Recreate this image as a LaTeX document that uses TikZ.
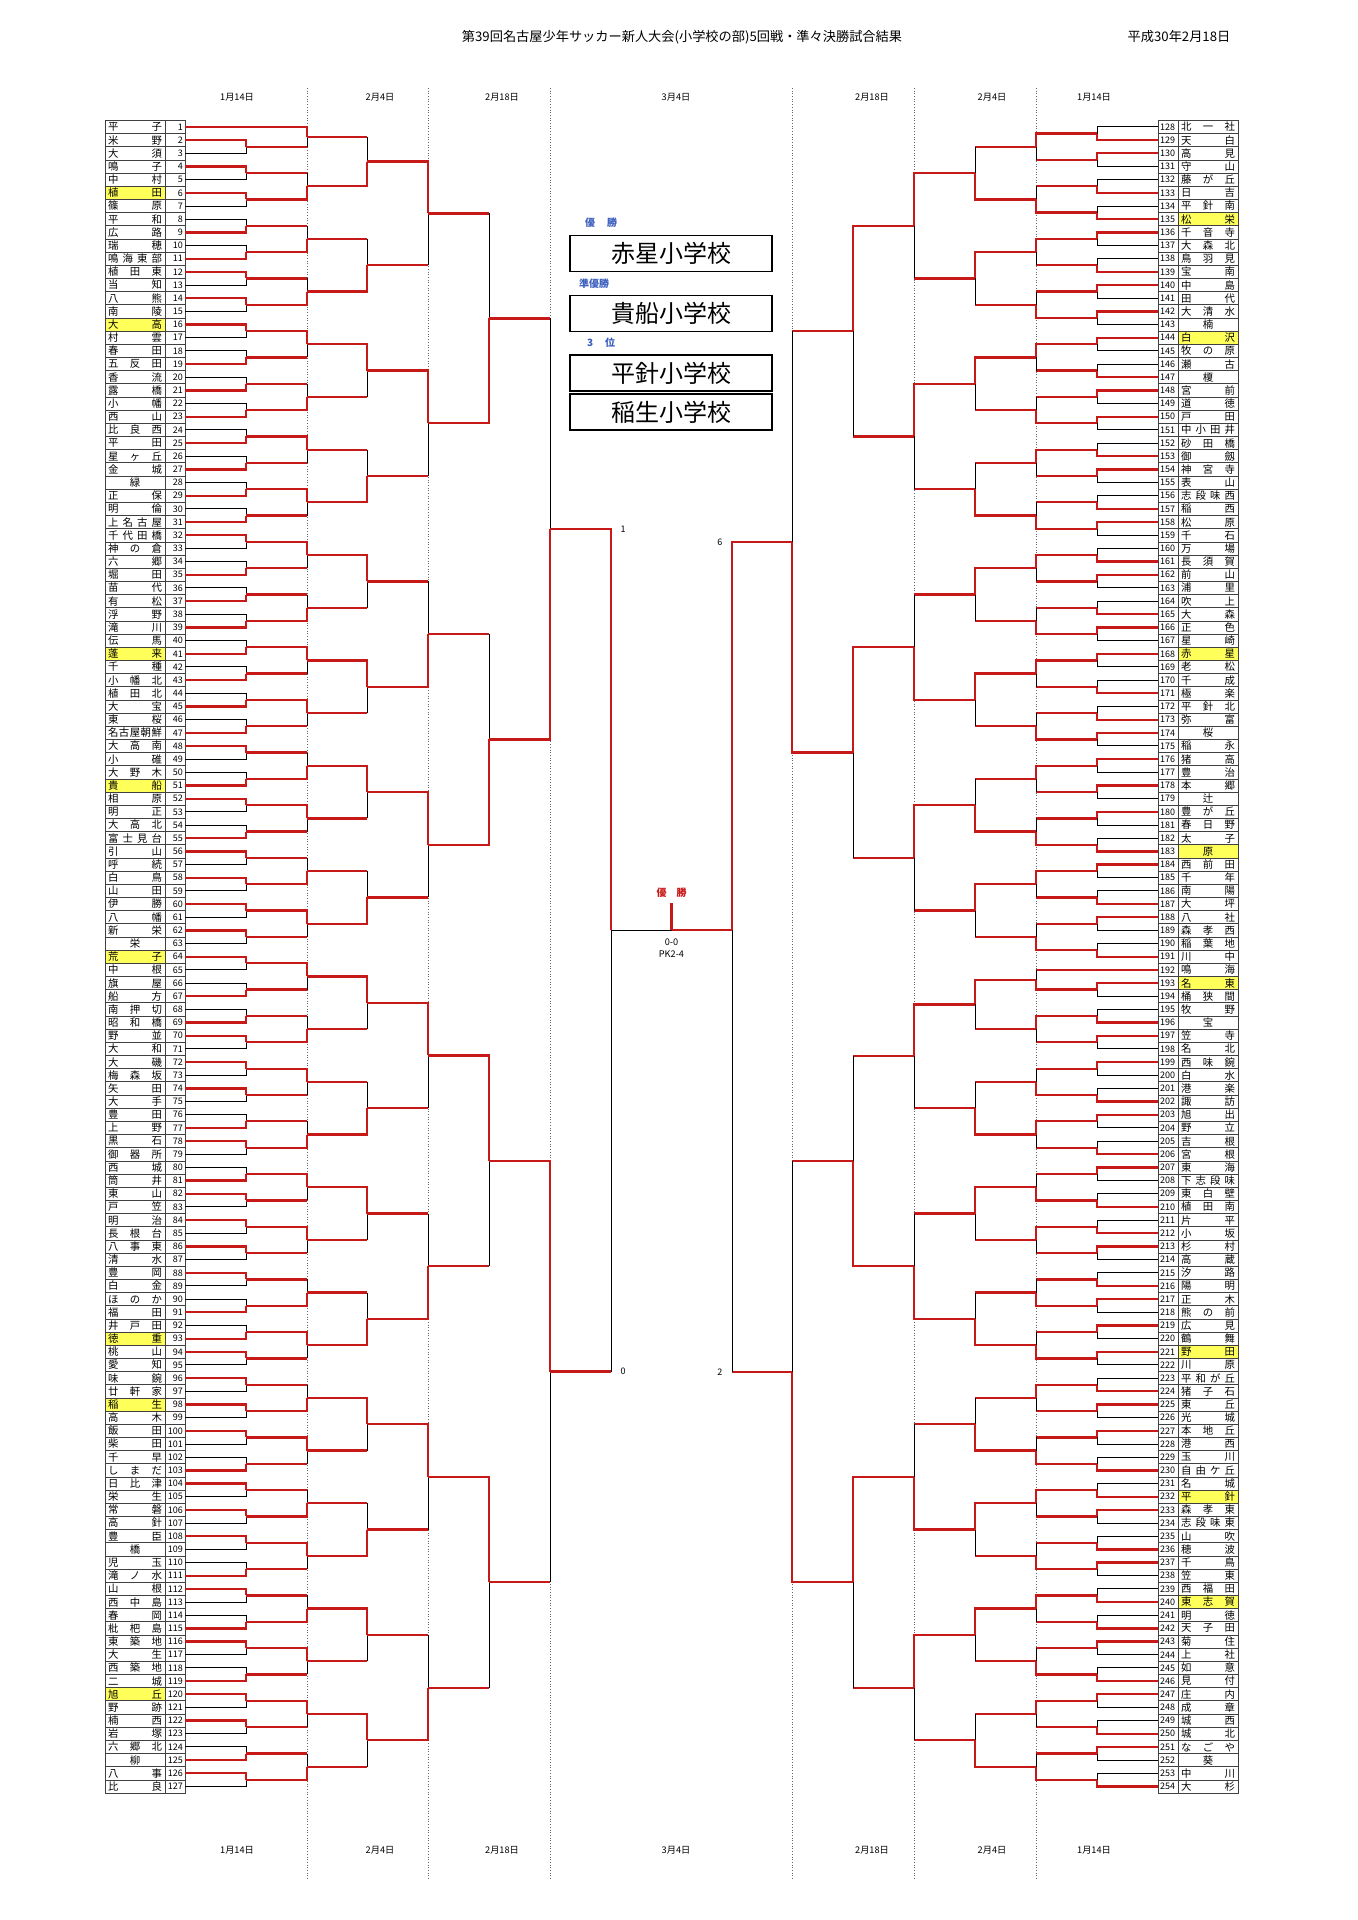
\documentclass[tikz,border=0pt]{standalone}
\usepackage{fontspec}
\setmainfont{Noto Sans CJK JP}
\definecolor{wred}{RGB}{200,25,25}
\definecolor{hly}{RGB}{255,255,90}
\definecolor{blu}{RGB}{60,95,190}
\tikzset{win/.style={wred,line width=1.15pt},lose/.style={black,line width=0.5pt},
 cell/.style={draw=black!75,line width=0.35pt},
 nm/.style={inner sep=0pt,font=\fontsize{5.2}{5}\selectfont},
 num/.style={inner sep=0.6pt,font=\fontsize{4.5}{5}\selectfont},
 hdr/.style={font=\fontsize{4.6}{5}\selectfont},
 sep/.style={densely dotted,black!60,line width=0.35pt},
 resbox/.style={draw,line width=0.8pt,minimum width=101pt,minimum height=16pt,font=\fontsize{12}{12}\selectfont}}
\def\spreadA#1#2\relax{#1\if\relax\detokenize{#2}\relax\else\hfill\spreadA#2\relax\fi}
\def\jn#1{\jnA#1\relax\relax\jnend}
\def\jnA#1#2#3\jnend{\ifx\relax#2\hfill#1\hfill\else\spreadA#1#2#3\fi}
\foreach \n [count=\i] in {平子,米野,大須,鳴子,中村,植田,篠原,平和,広路,瑞穂,鳴海東部,植田東,当知,八熊,南陵,大高,村雲,春田,五反田,香流,露橋,小幡,西山,比良西,平田,星ヶ丘,金城,緑,正保,明倫,上名古屋,千代田橋,神の倉,六郷,堀田,苗代,有松,浮野,滝川,伝馬,蓬来,千種,小幡北,植田北,大宝,東桜,名古屋朝鮮,大高南,小碓,大野木,貴船,相原,明正,大高北,富士見台,引山,呼続,白鳥,山田,伊勝,八幡,新栄,栄,荒子,中根,旗屋,船方,南押切,昭和橋,野並,大和,大磯,梅森坂,矢田,大手,豊田,上野,黒石,御器所,西城,筒井,東山,戸笠,明治,長根台,八事東,清水,豊岡,白金,ほのか,福田,井戸田,徳重,桃山,愛知,味鋺,廿軒家,稲生,高木,飯田,柴田,千早,しまだ,日比津,栄生,常磐,高針,豊臣,橋,児玉,滝ノ水,山根,西中島,春岡,枇杷島,東築地,大生,西築地,二城,旭丘,野跡,楠西,岩塚,六郷北,柳,八事,比良}{\expandafter\xdef\csname tn\i\endcsname{\n}}
\foreach \n [count=\i from 128] in {北一社,天白,高見,守山,藤が丘,日吉,平針南,松栄,千音寺,大森北,鳥羽見,宝南,中島,田代,大清水,楠,白沢,牧の原,瀬古,榎,宮前,道徳,戸田,中小田井,砂田橋,御劔,神宮寺,表山,志段味西,稲西,松原,千石,万場,長須賀,前山,浦里,吹上,大森,正色,星崎,赤星,老松,千成,極楽,平針北,弥富,桜,稲永,猪高,豊治,本郷,辻,豊が丘,春日野,太子,原,西前田,千年,南陽,大坪,八社,森孝西,稲葉地,川中,鳴海,名東,桶狭間,牧野,宝,笠寺,名北,西味鋺,白水,港楽,諏訪,旭出,野立,吉根,宮根,東海,下志段味,東白壁,植田南,片平,小坂,杉村,高蔵,汐路,陽明,正木,熊の前,広見,鶴舞,野田,川原,平和が丘,猪子石,東丘,光城,本地丘,港西,玉川,自由ケ丘,名城,平針,森孝東,志段味東,山吹,穂波,千鳥,笠東,西福田,東志賀,明徳,天子田,菊住,上社,如意,見付,庄内,成章,城西,城北,なごや,葵,中川,大杉}{\expandafter\xdef\csname tn\i\endcsname{\n}}
\foreach \h in {6,16,41,51,64,93,98,120,135,144,168,183,193,221,232,240}{\expandafter\gdef\csname hl\h\endcsname{}}
\newcommand\setfl[3]{\foreach \f [count=\k] in {#3}{\expandafter\xdef\csname F-#1-#2-\k\endcsname{\f}}}
\setfl{L}{1}{Y,T,T,T,B,B,T,T,T,B,B,B,B,B,B,B,T,B,B,B,B,B,B,B,T,B,T,B,T,T,T,T,T,B,B,T,T,T,B,T,B,T,T,T,T,B,B,T,T,T,T,B,T,T,T,B,T,B,T,B,T,T,B,T}
\setfl{L}{2}{T,B,B,B,T,B,T,T,T,B,T,T,B,T,B,T,T,B,T,B,T,T,B,T,B,T,B,T,B,T,T,B}
\setfl{L}{3}{B,B,T,B,T,T,T,B,T,B,T,B,T,B,T,T}
\setfl{L}{4}{T,T,B,T,T,B,T,B}
\setfl{L}{5}{B,B,T,T}
\setfl{L}{6}{B,T}
\setfl{L}{7}{T}
\setfl{R}{1}{B,T,B,B,T,B,T,T,T,B,T,T,B,T,B,T,B,T,B,T,T,B,B,T,T,T,T,B,T,B,T,B,Y,T,B,T,T,B,T,B,T,B,B,T,B,T,T,T,B,T,T,B,B,T,B,T,B,B,T,B,T,B,T,B}
\setfl{R}{2}{T,B,T,B,T,B,T,B,T,B,T,B,T,B,T,B,B,T,B,T,B,T,B,B,T,B,T,B,T,B,T,B}
\setfl{R}{3}{B,T,T,B,T,T,B,T,T,B,T,B,B,T,T,B}
\setfl{R}{4}{T,T,B,T,T,B,B,T}
\setfl{R}{5}{T,T,B,T}
\setfl{R}{6}{B,B}
\setfl{R}{7}{T}
\newcommand\pairdraw[5]{%
 \pgfmathsetmacro\ya{127+13.17*(#3-1)}%
 \pgfmathsetmacro\yb{\ya+13.17}%
 \pgfmathsetmacro\ym{\ya+6.585}%
 \edef\f{\csname F-#1-1-#2\endcsname}%
 \if T\f
  \draw[lose] (#4,\yb) -- (#5,\yb) -- (#5,\ym);
  \draw[win] (#4,\ya) -- (#5,\ya) -- (#5,\ym);
 \else
  \draw[lose] (#4,\ya) -- (#5,\ya) -- (#5,\ym);
  \draw[win] (#4,\yb) -- (#5,\yb) -- (#5,\ym);
 \fi
 \expandafter\xdef\csname Y-#1-1-#2\endcsname{\ym}%
 \expandafter\xdef\csname X-#1-1-#2\endcsname{#5}%
}
\newcommand\byedraw[4]{%
 \pgfmathsetmacro\ya{127+13.17*(#3-1)}%
 \expandafter\xdef\csname Y-#1-1-#2\endcsname{\ya}%
 \expandafter\xdef\csname X-#1-1-#2\endcsname{#4}%
}
\newcommand\dorounds[2]{%
 \foreach \r/\n/\xc in {#2}{%
  \foreach \k in {1,...,\n}{%
   \pgfmathtruncatemacro\ka{2*\k-1}%
   \pgfmathtruncatemacro\kb{2*\k}%
   \pgfmathtruncatemacro\rp{\r-1}%
   \edef\ya{\csname Y-#1-\rp-\ka\endcsname}%
   \edef\yb{\csname Y-#1-\rp-\kb\endcsname}%
   \edef\xa{\csname X-#1-\rp-\ka\endcsname}%
   \edef\xb{\csname X-#1-\rp-\kb\endcsname}%
   \pgfmathsetmacro\ym{(\ya+\yb)/2}%
   \ifnum\r=7 \def\ym{930}\fi
   \edef\f{\csname F-#1-\r-\k\endcsname}%
   \if T\f
    \draw[win] (\xb,\yb) -- (\xc,\yb);
    \draw[lose] (\xc,\yb) -- (\xc,\ym);
    \draw[win] (\xa,\ya) -- (\xc,\ya) -- (\xc,\ym);
   \else
    \draw[win] (\xa,\ya) -- (\xc,\ya);
    \draw[lose] (\xc,\ya) -- (\xc,\ym);
    \draw[win] (\xb,\yb) -- (\xc,\yb) -- (\xc,\ym);
   \fi
   \expandafter\xdef\csname Y-#1-\r-\k\endcsname{\ym}%
   \expandafter\xdef\csname X-#1-\r-\k\endcsname{\xc}%
  }}}
\begin{document}
\begin{tikzpicture}[x=0.5pt,y=-0.5pt]
\fill[white] (0,0) rectangle (1357,1920);
\useasboundingbox (0,0) rectangle (1357,1920);
% title
\node (title) at (682,37) {\fontsize{6.6}{7}\selectfont 第39回名古屋少年サッカー新人大会(小学校の部)5回戦・準々決勝試合結果};
\node (date) at (1179,37) {\fontsize{6.6}{7}\selectfont 平成30年2月18日};
% separators
\foreach \sx in {307,428,550,792,914,1036}{\draw[sep] (\sx,88) -- (\sx,1880);}
% headers
\foreach \hx/\htxt [count=\j] in {237/1月14日,380/2月4日,502/2月18日,676/3月4日,872/2月18日,992/2月4日,1094/1月14日}{
 \node[hdr] (ht\j) at (\hx,97) {\htxt};
 \node[hdr] (hb\j) at (\hx,1850) {\htxt};}
% left team boxes
\foreach \i in {1,...,127}{
 \pgfmathsetmacro\yy{127+13.17*(\i-1)}
 \ifcsname hl\i\endcsname \fill[hly] (105,\yy-6.585) rectangle (165,\yy+6.585); \fi
 \draw[cell] (105,\yy-6.585) rectangle (185,\yy+6.585);
 \draw[cell] (165,\yy-6.585) -- (165,\yy+6.585);
 \edef\tmpn{\csname tn\i\endcsname}
 \node[nm] (L\i) at (135,\yy) {\makebox[27pt][s]{\expandafter\jn\expandafter{\tmpn}}};
 \node[num,anchor=east] (LN\i) at (184.5,\yy) {\i};
}
% right team boxes
\foreach \i in {128,...,254}{
 \pgfmathsetmacro\yy{127+13.17*(\i-128)}
 \ifcsname hl\i\endcsname \fill[hly] (1178,\yy-6.585) rectangle (1238,\yy+6.585); \fi
 \draw[cell] (1158,\yy-6.585) rectangle (1238,\yy+6.585);
 \draw[cell] (1178,\yy-6.585) -- (1178,\yy+6.585);
 \edef\tmpn{\csname tn\i\endcsname}
 \node[nm] (R\i) at (1208,\yy) {\makebox[27pt][s]{\expandafter\jn\expandafter{\tmpn}}};
 \node[num,anchor=west] (RN\i) at (1158.5,\yy) {\i};
}
% first round
\foreach \u in {1,...,64}{\ifnum\u=1 \byedraw{L}{1}{1}{185}\else\pgfmathtruncatemacro\rt{2*\u-2}\pairdraw{L}{\u}{\rt}{185}{246}\fi}
\foreach \u in {1,...,64}{\ifnum\u<33 \pgfmathtruncatemacro\rt{2*\u-1}\pairdraw{R}{\u}{\rt}{1158}{1097}\else\ifnum\u=33 \byedraw{R}{33}{65}{1158}\else\pgfmathtruncatemacro\rt{2*\u-2}\pairdraw{R}{\u}{\rt}{1158}{1097}\fi\fi}
\dorounds{L}{2/32/307,3/16/367,4/8/428,5/4/489,6/2/550,7/1/611}
\dorounds{R}{2/32/1036,3/16/975,4/8/914,5/4/853,6/2/792,7/1/732}
% final
\coordinate (fl) at (611,930);
\coordinate (fc) at (671.5,930);
\coordinate (fr) at (732,930);
\coordinate (fs) at (671.5,903);
\draw[lose] (fl) -- (fc);
\draw[win] (fc) -- (fr);
\draw[win] (fc) -- (fs);
\node[text=wred,font=\fontsize{5}{5}\selectfont\bfseries] (champ) at (671.5,893) {優\hspace{5pt}勝};
\node[font=\fontsize{4.6}{5}\selectfont] (sc1) at (671.5,942) {0-0};
\node[font=\fontsize{4.6}{5}\selectfont] (sc2) at (671.5,954) {PK2-4};
\edef\qa{\csname Y-L-6-1\endcsname}\edef\qb{\csname Y-L-6-2\endcsname}
\edef\qc{\csname Y-R-6-1\endcsname}\edef\qd{\csname Y-R-6-2\endcsname}
\node[num,anchor=west] (s1) at (619,\qa) {1};
\node[num,anchor=west] (s0) at (619,\qb) {0};
\node[num,anchor=east] (s6) at (724,\qc) {6};
\node[num,anchor=east] (s2) at (724,\qd) {2};
% results
\node[text=blu,font=\fontsize{5}{5}\selectfont\bfseries,anchor=west] (t1) at (578,223) {優\hspace{6pt}勝};
\node[resbox] (b1) at (671,253.5) {赤星小学校};
\node[text=blu,font=\fontsize{5}{5}\selectfont\bfseries,anchor=west] (t2) at (572,284) {準優勝};
\node[resbox] (b2) at (671,313.5) {貴船小学校};
\node[text=blu,font=\fontsize{5}{5}\selectfont\bfseries,anchor=west] (t3) at (580,343) {3\hspace{6pt}位};
\node[resbox] (b3) at (671,373) {平針小学校};
\node[resbox] (b4) at (671,412) {稲生小学校};
\end{tikzpicture}
\end{document}
